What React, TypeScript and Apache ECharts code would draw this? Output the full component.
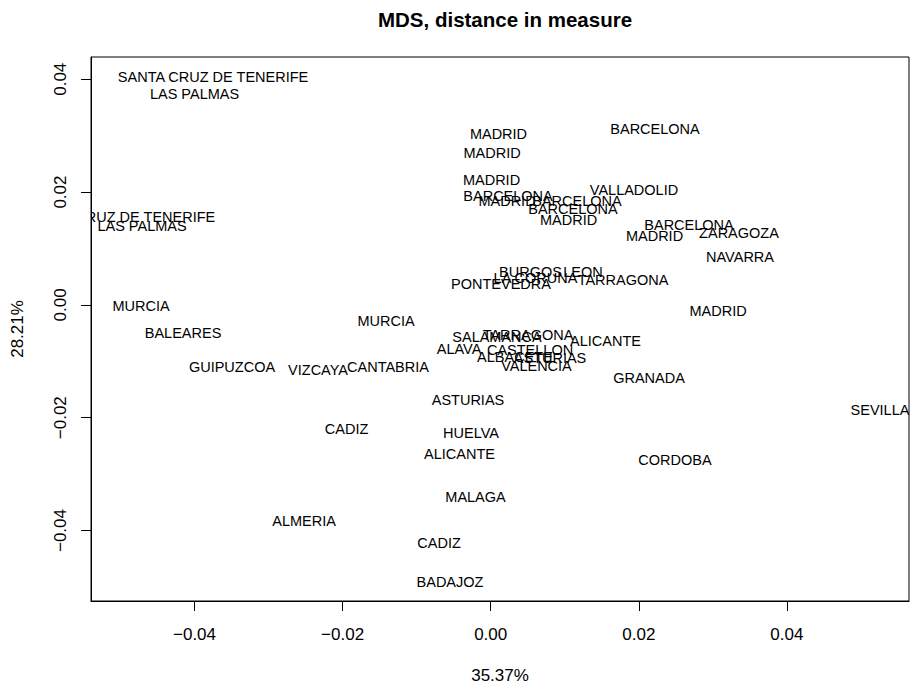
import React, { useEffect, useRef } from "react";
import * as echarts from "echarts";

const labels: string[] = [
  "SANTA CRUZ DE TENERIFE", "LAS PALMAS", "SANTA CRUZ DE TENERIFE", "LAS PALMAS",
  "MADRID", "MADRID", "MADRID", "BARCELONA", "MADRID", "BARCELONA", "BARCELONA", "MADRID",
  "VALLADOLID", "BARCELONA", "BARCELONA", "MADRID", "ZARAGOZA", "NAVARRA",
  "BURGOS", "LEON", "LA CORUNA", "PONTEVEDRA", "TARRAGONA", "MADRID",
  "SALAMANCA", "TARRAGONA", "ALICANTE", "ALAVA", "CASTELLON", "ALBACETE", "ASTURIAS", "VALENCIA",
  "GRANADA", "MURCIA", "BALEARES", "MURCIA", "GUIPUZCOA", "VIZCAYA", "CANTABRIA",
  "ASTURIAS", "CADIZ", "HUELVA", "ALICANTE", "CORDOBA", "MALAGA", "ALMERIA", "CADIZ", "BADAJOZ",
  "SEVILLA",
];

const dim1: number[] = [
  -0.0375, -0.0400, -0.05006, -0.04709,
  0.00105, 0.00018, 0.00011, 0.00234, 0.0022, 0.01165, 0.01111, 0.01051,
  0.01935, 0.02219, 0.02678, 0.02212, 0.03353, 0.03367,
  0.00537, 0.01246, 0.00605, 0.00139, 0.01787, 0.0307,
  0.00085, 0.00504, 0.0155, -0.00428, 0.00531, 0.00328, 0.00801, 0.00618,
  0.02138, -0.04722, -0.04155, -0.01414, -0.03494, -0.02332, -0.01387,
  -0.00307, -0.01947, -0.00266, -0.00421, 0.02489, -0.00205, -0.02521, -0.00698, -0.0055,
  0.05257,
];

const dim2: number[] = [
  0.04058, 0.03758, 0.01586, 0.01427,
  0.03052, 0.02716, 0.02239, 0.01957, 0.01868, 0.01868, 0.01727, 0.01533,
  0.02063, 0.0314, 0.01445, 0.0125, 0.01303, 0.00879,
  0.00615, 0.00615, 0.00509, 0.00403, 0.00473, -0.00074,
  -0.00551, -0.00516, -0.00622, -0.00763, -0.00781, -0.00904, -0.00922, -0.01063,
  -0.01275, 0.00014, -0.0048, -0.00251, -0.01081, -0.01134, -0.01081,
  -0.01664, -0.02176, -0.02246, -0.02617, -0.02723, -0.03377, -0.038, -0.04189, -0.04878,
  -0.0184,
];

const xTicks: number[] = [-0.04, -0.02, 0, 0.02, 0.04];
const yTicks: number[] = [-0.04, -0.02, 0, 0.02, 0.04];

const titleText = "MDS, distance in measure";
const xName = "35.37%";
const yName = "28.21%";

const FONT = "'Liberation Sans', Arial, Helvetica, sans-serif";

const fmt = (v: number) => (v < -1e-9 ? "\u2212" : "") + Math.abs(v).toFixed(2);

export default function App() {
  const ref = useRef<HTMLDivElement>(null);

  useEffect(() => {
    if (!ref.current) return;
    const chart = echarts.init(ref.current, undefined, { renderer: "svg" });
    const data = dim1.map((x, i) => [x, dim2[i]]);
    const axisCommon = {
      axisLine: { show: true, onZero: false, lineStyle: { color: "#000", width: 1 } },
      axisTick: { show: true, length: 10, lineStyle: { color: "#000", width: 1 } },
      splitLine: { show: false },
    };
    chart.setOption({
      animation: false,
      backgroundColor: "#fff",
      title: {
        text: titleText,
        left: 500,
        top: 4,
        textAlign: "center",
        textStyle: { fontFamily: FONT, fontWeight: "bold", fontSize: 20.5, color: "#000" },
      },
      grid: {
        left: 91,
        right: 1,
        top: 57,
        bottom: 86,
        show: true,
        borderColor: "#000",
        borderWidth: 1,
        backgroundColor: "transparent",
      },
      xAxis: {
        type: "value",
        min: -0.05398,
        max: 0.05649,
        name: xName,
        nameLocation: "middle",
        nameGap: 66,
        nameTextStyle: { fontFamily: FONT, fontSize: 17, color: "#000" },
        ...axisCommon,
        axisTick: { ...axisCommon.axisTick, customValues: xTicks },
        axisLabel: {
          customValues: xTicks,
          formatter: fmt,
          margin: 25,
          fontFamily: FONT,
          fontSize: 17,
          color: "#000",
        },
      },
      yAxis: {
        type: "value",
        min: -0.05249,
        max: 0.04394,
        name: yName,
        nameLocation: "middle",
        nameRotate: 90,
        nameGap: 65,
        nameTextStyle: { fontFamily: FONT, fontSize: 17, color: "#000" },
        ...axisCommon,
        axisTick: { ...axisCommon.axisTick, customValues: yTicks },
        axisLabel: {
          customValues: yTicks,
          formatter: fmt,
          rotate: 90,
          margin: 22,
          fontFamily: FONT,
          fontSize: 17,
          color: "#000",
        },
      },
      series: [
        {
          type: "custom",
          clip: true,
          data,
          encode: { x: 0, y: 1 },
          renderItem: (params: any, api: any) => {
            const p = api.coord([api.value(0), api.value(1)]);
            return {
              type: "text",
              x: p[0],
              y: p[1] + 1.5,
              style: {
                text: labels[params.dataIndex],
                fontFamily: FONT,
                fontSize: 14.5,
                fill: "#000",
                align: "center",
                verticalAlign: "middle",
              },
            };
          },
        },
      ],
    });
    return () => chart.dispose();
  }, []);

  return (
    <div
      ref={ref}
      style={{ position: "fixed", left: 0, top: 0, width: 910, height: 689, background: "#fff" }}
    />
  );
}
